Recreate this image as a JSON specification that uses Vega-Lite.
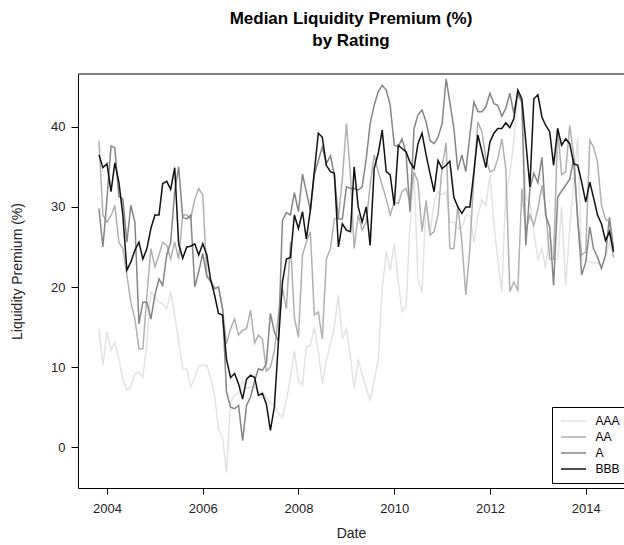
{
  "$schema": "https://vega.github.io/schema/vega-lite/v6.json",
  "width": 546,
  "height": 414,
  "autosize": {"type": "none"},
  "padding": {"left": 78, "top": 74, "right": 0, "bottom": 57},
  "background": "white",
  "config": {"view": {"stroke": null}, "font": "Liberation Sans"},
  "title": {
    "text": ["Median Liquidity Premium (%)", "by Rating"],
    "fontSize": 17, "fontWeight": "bold", "font": "Liberation Sans", "color": "black",
    "anchor": "middle", "frame": "group", "lineHeight": 22, "baseline": "bottom", "offset": 7
  },
  "layer": [
    {
      "data": {"values": [
        {"d":"2003-11-01","AAA":14.8,"AA":38.3,"A":29.8,"BBB":36.5},
        {"d":"2003-12-01","AAA":10.2,"AA":29,"A":25,"BBB":34.9},
        {"d":"2004-01-01","AAA":14.4,"AA":28.1,"A":31,"BBB":35.4},
        {"d":"2004-02-01","AAA":12.1,"AA":28.9,"A":37.6,"BBB":31.9},
        {"d":"2004-03-01","AAA":13.1,"AA":30.2,"A":37.4,"BBB":35.5},
        {"d":"2004-04-01","AAA":11,"AA":25.6,"A":31.3,"BBB":33.1},
        {"d":"2004-05-01","AAA":8.5,"AA":24.8,"A":31,"BBB":29},
        {"d":"2004-06-01","AAA":7.1,"AA":21.5,"A":25.6,"BBB":22.1},
        {"d":"2004-07-01","AAA":7.5,"AA":18.1,"A":30.2,"BBB":23.1},
        {"d":"2004-08-01","AAA":9.2,"AA":16,"A":28.1,"BBB":24.6},
        {"d":"2004-09-01","AAA":9.4,"AA":12.3,"A":15.4,"BBB":25.6},
        {"d":"2004-10-01","AAA":8.7,"AA":12.3,"A":18.1,"BBB":23.5},
        {"d":"2004-11-01","AAA":13.1,"AA":19,"A":18.1,"BBB":24.8},
        {"d":"2004-12-01","AAA":19.4,"AA":24.8,"A":16,"BBB":27.3},
        {"d":"2005-01-01","AAA":18.7,"AA":22.5,"A":19,"BBB":29},
        {"d":"2005-02-01","AAA":18.1,"AA":24,"A":21,"BBB":29},
        {"d":"2005-03-01","AAA":17.9,"AA":25.6,"A":20.2,"BBB":32.9},
        {"d":"2005-04-01","AAA":17.3,"AA":25.2,"A":24,"BBB":33.2},
        {"d":"2005-05-01","AAA":19.4,"AA":23.5,"A":25.6,"BBB":32.2},
        {"d":"2005-06-01","AAA":16.5,"AA":25.6,"A":31.9,"BBB":34.9},
        {"d":"2005-07-01","AAA":13.1,"AA":23.5,"A":35,"BBB":25.4},
        {"d":"2005-08-01","AAA":9.8,"AA":29,"A":28.7,"BBB":23.6},
        {"d":"2005-09-01","AAA":9.8,"AA":29,"A":28.5,"BBB":25},
        {"d":"2005-10-01","AAA":7.5,"AA":28.5,"A":29,"BBB":25.1},
        {"d":"2005-11-01","AAA":8.7,"AA":31,"A":20,"BBB":25.4},
        {"d":"2005-12-01","AAA":10.2,"AA":32.3,"A":21.9,"BBB":24},
        {"d":"2006-01-01","AAA":10.2,"AA":31.5,"A":24.2,"BBB":25.4},
        {"d":"2006-02-01","AAA":10.2,"AA":21.5,"A":21.3,"BBB":24},
        {"d":"2006-03-01","AAA":8.7,"AA":20.6,"A":20.8,"BBB":21},
        {"d":"2006-04-01","AAA":6.5,"AA":19.8,"A":19.8,"BBB":19},
        {"d":"2006-05-01","AAA":2.3,"AA":20,"A":20,"BBB":16.7},
        {"d":"2006-06-01","AAA":1.2,"AA":17.3,"A":17.3,"BBB":16.5},
        {"d":"2006-07-01","AAA":-3.2,"AA":12.9,"A":6.9,"BBB":11},
        {"d":"2006-08-01","AAA":5.6,"AA":14.8,"A":5,"BBB":8.7},
        {"d":"2006-09-01","AAA":6.5,"AA":16,"A":4.8,"BBB":9.2},
        {"d":"2006-10-01","AAA":6.7,"AA":14,"A":5.2,"BBB":7.9},
        {"d":"2006-11-01","AAA":8.3,"AA":14.6,"A":0.8,"BBB":6},
        {"d":"2006-12-01","AAA":7.3,"AA":14.8,"A":5.2,"BBB":8.5},
        {"d":"2007-01-01","AAA":7.5,"AA":17.1,"A":6.3,"BBB":9},
        {"d":"2007-02-01","AAA":7.5,"AA":13,"A":8.3,"BBB":8.7},
        {"d":"2007-03-01","AAA":6.9,"AA":14,"A":9.8,"BBB":6.5},
        {"d":"2007-04-01","AAA":6.9,"AA":13.5,"A":9.6,"BBB":6.7},
        {"d":"2007-05-01","AAA":6.2,"AA":9.5,"A":10.4,"BBB":5.4},
        {"d":"2007-06-01","AAA":5.4,"AA":10,"A":16.7,"BBB":2.1},
        {"d":"2007-07-01","AAA":5.4,"AA":12,"A":14.4,"BBB":5},
        {"d":"2007-08-01","AAA":4.2,"AA":16.5,"A":13.2,"BBB":13.1},
        {"d":"2007-09-01","AAA":3.7,"AA":19.8,"A":28.3,"BBB":20.6},
        {"d":"2007-10-01","AAA":5.8,"AA":17.3,"A":29.3,"BBB":23.5},
        {"d":"2007-11-01","AAA":8.7,"AA":25.6,"A":29,"BBB":23.7},
        {"d":"2007-12-01","AAA":12.1,"AA":16.2,"A":31.8,"BBB":29},
        {"d":"2008-01-01","AAA":8.3,"AA":13.7,"A":29.4,"BBB":27.3},
        {"d":"2008-02-01","AAA":7.7,"AA":24,"A":34.1,"BBB":29.4},
        {"d":"2008-03-01","AAA":12.5,"AA":25.6,"A":31.9,"BBB":26},
        {"d":"2008-04-01","AAA":12.7,"AA":26.9,"A":29.5,"BBB":29.6},
        {"d":"2008-05-01","AAA":15,"AA":16.5,"A":34,"BBB":34.4},
        {"d":"2008-06-01","AAA":11.9,"AA":16.9,"A":35.8,"BBB":39.2},
        {"d":"2008-07-01","AAA":7.9,"AA":13.5,"A":37.5,"BBB":38.7},
        {"d":"2008-08-01","AAA":10.8,"AA":23.5,"A":35.4,"BBB":35.2},
        {"d":"2008-09-01","AAA":12.9,"AA":24.8,"A":36.4,"BBB":34.4},
        {"d":"2008-10-01","AAA":15,"AA":28.5,"A":34,"BBB":34.2},
        {"d":"2008-11-01","AAA":19,"AA":28.7,"A":28.5,"BBB":25},
        {"d":"2008-12-01","AAA":13.5,"AA":33.5,"A":28.5,"BBB":27.9},
        {"d":"2009-01-01","AAA":14.8,"AA":40.4,"A":32.5,"BBB":27.1},
        {"d":"2009-02-01","AAA":11.2,"AA":34,"A":32.3,"BBB":26.9},
        {"d":"2009-03-01","AAA":7.3,"AA":24.8,"A":32.3,"BBB":35},
        {"d":"2009-04-01","AAA":11,"AA":29,"A":32.1,"BBB":30},
        {"d":"2009-05-01","AAA":9,"AA":27.1,"A":32.5,"BBB":28.1},
        {"d":"2009-06-01","AAA":7.4,"AA":28.1,"A":36,"BBB":30},
        {"d":"2009-07-01","AAA":5.8,"AA":32.7,"A":40.4,"BBB":25.2},
        {"d":"2009-08-01","AAA":8.4,"AA":36.5,"A":42.7,"BBB":34.8},
        {"d":"2009-09-01","AAA":10.9,"AA":34.4,"A":44.4,"BBB":36.7},
        {"d":"2009-10-01","AAA":19.8,"AA":32.7,"A":45.2,"BBB":39.6},
        {"d":"2009-11-01","AAA":24.4,"AA":31,"A":44.6,"BBB":34.4},
        {"d":"2009-12-01","AAA":22.1,"AA":29,"A":42.7,"BBB":34},
        {"d":"2010-01-01","AAA":25.4,"AA":30.6,"A":37.7,"BBB":30.2},
        {"d":"2010-02-01","AAA":20.6,"AA":30.4,"A":37.5,"BBB":37.7},
        {"d":"2010-03-01","AAA":16.9,"AA":31.9,"A":38.5,"BBB":37.3},
        {"d":"2010-04-01","AAA":17.5,"AA":32.3,"A":36.7,"BBB":36.9},
        {"d":"2010-05-01","AAA":27.7,"AA":30.6,"A":29.4,"BBB":35.6},
        {"d":"2010-06-01","AAA":34,"AA":34.4,"A":39.8,"BBB":34.8},
        {"d":"2010-07-01","AAA":21,"AA":33.1,"A":41.5,"BBB":37.9},
        {"d":"2010-08-01","AAA":19.4,"AA":26.9,"A":42.1,"BBB":39.2},
        {"d":"2010-09-01","AAA":30.8,"AA":30.8,"A":40.6,"BBB":36.5},
        {"d":"2010-10-01","AAA":26.5,"AA":26.5,"A":38.3,"BBB":34.2},
        {"d":"2010-11-01","AAA":30.6,"AA":26.9,"A":37.9,"BBB":31.9},
        {"d":"2010-12-01","AAA":31.9,"AA":29,"A":38.7,"BBB":35.8},
        {"d":"2011-01-01","AAA":31.5,"AA":35,"A":40.4,"BBB":34.8},
        {"d":"2011-02-01","AAA":31.9,"AA":38,"A":46,"BBB":35.2},
        {"d":"2011-03-01","AAA":28.1,"AA":24.8,"A":43.1,"BBB":35.7},
        {"d":"2011-04-01","AAA":28.1,"AA":24.8,"A":39.8,"BBB":31.2},
        {"d":"2011-05-01","AAA":27.3,"AA":30.2,"A":34.6,"BBB":30},
        {"d":"2011-06-01","AAA":27.4,"AA":25.6,"A":36.5,"BBB":29.2},
        {"d":"2011-07-01","AAA":29,"AA":19,"A":34.4,"BBB":30},
        {"d":"2011-08-01","AAA":29,"AA":24.8,"A":39,"BBB":30},
        {"d":"2011-09-01","AAA":25.6,"AA":34,"A":43.1,"BBB":34.4},
        {"d":"2011-10-01","AAA":29,"AA":40.6,"A":41.9,"BBB":39},
        {"d":"2011-11-01","AAA":30.8,"AA":39.4,"A":41.9,"BBB":36.9},
        {"d":"2011-12-01","AAA":30.2,"AA":36,"A":42.5,"BBB":34.9},
        {"d":"2012-01-01","AAA":34,"AA":34.4,"A":44.2,"BBB":38.1},
        {"d":"2012-02-01","AAA":27.7,"AA":34.6,"A":42.9,"BBB":39.2},
        {"d":"2012-03-01","AAA":23.5,"AA":36,"A":42.7,"BBB":39.8},
        {"d":"2012-04-01","AAA":19.4,"AA":38.5,"A":41.3,"BBB":39.8},
        {"d":"2012-05-01","AAA":31.9,"AA":34.8,"A":42.3,"BBB":40.5},
        {"d":"2012-06-01","AAA":34,"AA":19.4,"A":44.2,"BBB":39.9},
        {"d":"2012-07-01","AAA":38.1,"AA":20.6,"A":41.7,"BBB":41},
        {"d":"2012-08-01","AAA":44,"AA":19.6,"A":44.2,"BBB":44.6},
        {"d":"2012-09-01","AAA":43,"AA":32.3,"A":43,"BBB":43.5},
        {"d":"2012-10-01","AAA":31,"AA":26.9,"A":25.2,"BBB":38.1},
        {"d":"2012-11-01","AAA":30.6,"AA":29,"A":32.3,"BBB":32.5},
        {"d":"2012-12-01","AAA":26.9,"AA":27.7,"A":34.2,"BBB":43.5},
        {"d":"2013-01-01","AAA":23.5,"AA":29.8,"A":33,"BBB":44},
        {"d":"2013-02-01","AAA":24.8,"AA":32.7,"A":36.2,"BBB":41.2},
        {"d":"2013-03-01","AAA":22.3,"AA":29.8,"A":29,"BBB":40.2},
        {"d":"2013-04-01","AAA":26.9,"AA":23.5,"A":27.5,"BBB":39.4},
        {"d":"2013-05-01","AAA":23.5,"AA":23.5,"A":20.2,"BBB":35.2},
        {"d":"2013-06-01","AAA":23.5,"AA":39.8,"A":31.2,"BBB":39.8},
        {"d":"2013-07-01","AAA":30,"AA":34,"A":32,"BBB":37.7},
        {"d":"2013-08-01","AAA":20.2,"AA":34.4,"A":32.7,"BBB":38.5},
        {"d":"2013-09-01","AAA":27.3,"AA":40.2,"A":33.5,"BBB":37.9},
        {"d":"2013-10-01","AAA":33,"AA":36.5,"A":36,"BBB":35.4},
        {"d":"2013-11-01","AAA":38.7,"AA":28.1,"A":28.5,"BBB":35.2},
        {"d":"2013-12-01","AAA":23.5,"AA":24,"A":21.5,"BBB":33.1},
        {"d":"2014-01-01","AAA":23.3,"AA":24.4,"A":23.1,"BBB":30.6},
        {"d":"2014-02-01","AAA":23.1,"AA":38.3,"A":27.5,"BBB":33.1},
        {"d":"2014-03-01","AAA":23,"AA":37.5,"A":24.8,"BBB":31.2},
        {"d":"2014-04-01","AAA":23,"AA":35.6,"A":23.7,"BBB":29},
        {"d":"2014-05-01","AAA":22.7,"AA":30.2,"A":22.3,"BBB":27.9},
        {"d":"2014-06-01","AAA":23.7,"AA":28.5,"A":24,"BBB":25.8},
        {"d":"2014-07-01","AAA":25.6,"AA":28.1,"A":28.7,"BBB":26.9},
        {"d":"2014-08-01","AAA":23.7,"AA":23.7,"A":24.8,"BBB":24.4}
      ]},
      "transform": [{"fold": ["AAA", "AA", "A", "BBB"], "as": ["rating", "value"]}],
      "mark": {"type": "line", "strokeWidth": 1.5},
      "encoding": {
        "x": {
          "field": "d", "type": "temporal",
          "scale": {"type": "utc", "domain": [{"year": 2003, "month": 5, "date": 25, "utc": true}, {"year": 2014, "month": 10, "date": 20, "utc": true}]},
          "axis": {
            "title": "Date",
            "values": [{"year": 2004, "utc": true}, {"year": 2006, "utc": true}, {"year": 2008, "utc": true}, {"year": 2010, "utc": true}, {"year": 2012, "utc": true}, {"year": 2014, "utc": true}],
            "format": "%Y", "formatType": "utc",
            "grid": false, "tickSize": 6, "labelPadding": 8, "labelFlush": false,
            "labelFontSize": 13, "labelColor": "#222", "labelFont": "Liberation Sans",
            "domainColor": "black", "tickColor": "black",
            "titleFontSize": 14, "titleFontWeight": "normal", "titleColor": "#222", "titleFont": "Liberation Sans",
            "titleY": 45, "titleBaseline": "middle"
          }
        },
        "y": {
          "field": "value", "type": "quantitative",
          "scale": {"domain": [-5.1, 46.6], "nice": false, "zero": false},
          "axis": {
            "title": "Liquidity Premium (%)",
            "values": [0, 10, 20, 30, 40],
            "grid": false, "tickSize": 7, "labelPadding": 6,
            "labelFontSize": 13, "labelColor": "#222", "labelFont": "Liberation Sans",
            "domainColor": "black", "tickColor": "black",
            "titleFontSize": 14, "titleFontWeight": "normal", "titleColor": "#222", "titleFont": "Liberation Sans",
            "titleX": -61, "titleY": 197, "titleBaseline": "middle"
          }
        },
        "color": {
          "field": "rating", "type": "nominal",
          "scale": {"domain": ["AAA", "AA", "A", "BBB"], "range": ["#e3e3e3", "#b0b0b0", "#858585", "#111111"]},
          "legend": {
            "title": null, "orient": "none", "legendX": 474, "legendY": 333, "direction": "vertical",
            "strokeColor": "black", "fillColor": "white", "padding": 8,
            "symbolType": "M-2.5,0H2.5", "symbolSize": 100, "symbolStrokeWidth": 1.5, "symbolOffset": 7.5,
            "labelFontSize": 12, "labelFont": "Liberation Sans", "labelColor": "black",
            "labelOffset": 16, "rowPadding": 4
          }
        }
      }
    },
    {
      "data": {"values": [{}]},
      "mark": {"type": "rule", "color": "black", "strokeWidth": 1},
      "encoding": {"y": {"datum": 46.6}}
    }
  ]
}
